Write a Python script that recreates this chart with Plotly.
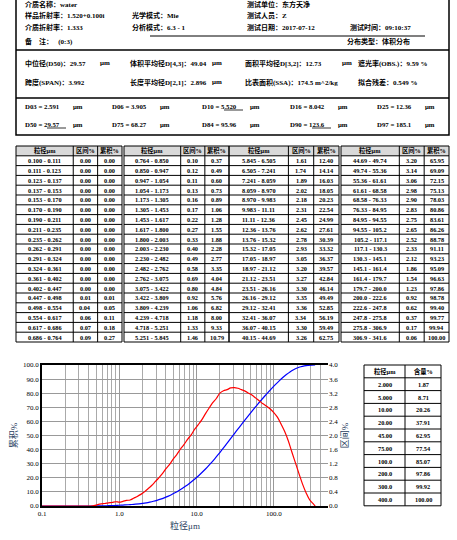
import plotly.graph_objects as go

W, H = 457, 540
FONT = "Liberation Serif, Noto Sans CJK SC"

# bin edges (as printed) and values per bin
edges = ["0.100", "0.111", "0.123", "0.137", "0.153", "0.170", "0.190", "0.211", "0.235", "0.262",
         "0.291", "0.324", "0.361", "0.402", "0.447", "0.498", "0.554", "0.617", "0.686", "0.764",
         "0.850", "0.947", "1.054", "1.173", "1.305", "1.453", "1.617", "1.800", "2.003", "2.230",
         "2.482", "2.762", "3.075", "3.422", "3.809", "4.239", "4.718", "5.251", "5.845", "6.505",
         "7.241", "8.059", "8.970", "9.983", "11.11", "12.36", "13.76", "15.32", "17.05", "18.97",
         "21.12", "23.51", "26.16", "29.12", "32.41", "36.07", "40.15", "44.69", "49.74", "55.36",
         "61.61", "68.58", "76.33", "84.95", "94.55", "105.2", "117.1", "130.3", "145.1", "161.4",
         "179.7", "200.0", "222.6", "247.8", "275.8", "306.9", "341.6"]
interval = [0.00] * 14 + [0.01, 0.04, 0.06, 0.07, 0.09,
            0.10, 0.12, 0.11, 0.13, 0.16, 0.17, 0.22, 0.27, 0.33, 0.40, 0.49, 0.58, 0.69, 0.80, 0.92, 1.06, 1.18, 1.33, 1.46,
            1.61, 1.74, 1.89, 2.02, 2.18, 2.31, 2.45, 2.62, 2.78, 2.93, 3.05, 3.20, 3.27, 3.30, 3.35, 3.36, 3.34, 3.30, 3.26,
            3.20, 3.14, 3.06, 2.98, 2.90, 2.83, 2.75, 2.65, 2.52, 2.33, 2.12, 1.86, 1.54, 1.23, 0.92, 0.62, 0.37, 0.17, 0.06]
cumulative = [0.00] * 14 + [0.01, 0.05, 0.11, 0.18, 0.27,
              0.37, 0.49, 0.60, 0.73, 0.89, 1.06, 1.28, 1.55, 1.88, 2.28, 2.77, 3.35, 4.04, 4.84, 5.76, 6.82, 8.00, 9.33, 10.79,
              12.40, 14.14, 16.03, 18.05, 20.23, 22.54, 24.99, 27.61, 30.39, 33.32, 36.37, 39.57, 42.84, 46.14, 49.49, 52.85, 56.19, 59.49, 62.75,
              65.95, 69.09, 72.15, 75.13, 78.03, 80.86, 83.61, 86.26, 88.78, 91.11, 93.23, 95.09, 96.63, 97.86, 98.78, 99.40, 99.77, 99.94, 100.00]

small_size = ["2.000", "5.000", "10.00", "20.00", "45.00", "75.00", "100.0", "200.0", "300.0", "400.0"]
small_pct = ["1.87", "8.71", "20.26", "37.91", "62.95", "77.54", "85.07", "97.86", "99.92", "100.00"]

header_items = [
    (23, 4, "介质名称：water"), (245, 4, "测试单位：东方天净"),
    (23, 15, "样品折射率：1.520+0.100i"), (130, 15, "光学模式：Mie"), (245, 15, "测试人员：Z"),
    (23, 28, "介质折射率：1.333"), (130, 28, "分析模式：6.3 - 1"), (245, 28, "测试日期：2017-07-12"),
    (348, 28, "测试时间：09:10:37"),
    (23, 42, "备　注：　 (0:3)"), (345, 42, "分布类型：体积分布"),
    (23, 63, "中位径(D50)：29.57"), (98, 63, "μm"), (128, 63, "体积平均径D[4,3]：49.04"), (210, 63, "μm"),
    (243, 63, "面积平均径D[3,2]：12.73"), (340, 63, "μm"), (356, 63, "遮光率(OBS.)：9.59 %"),
    (23, 82, "跨度(SPAN)：3.992"), (128, 82, "长度平均径D[2,1]：2.896"), (210, 82, "μm"),
    (243, 82, "比表面积(SSA)：174.5 m^2/kg"), (356, 82, "拟合残差：0.549 %"),
]
d_items = [("D03 = 2.591", "D06 = 3.905", "D10 = 5.520", "D16 = 8.042", "D25 = 12.36"),
           ("D50 = 29.57", "D75 = 68.27", "D84 = 95.96", "D90 = 123.6", "D97 = 185.1")]
d_x = [23, 110, 200, 288, 375]
d_y = [106, 124]

fig = go.Figure()
ann, shapes = [], []
thin = dict(color="black", width=1)


def px_line(x0, y0, x1, y1, ln=thin):
    shapes.append(dict(type="line", xref="paper", yref="paper", x0=x0 / W, x1=x1 / W,
                       y0=1 - y0 / H, y1=1 - y1 / H, line=ln))


def px_text(x, y, t, size=7, anchor="left"):
    ann.append(dict(x=x / W, y=1 - y / H, text=f"<b>{t}</b>", xref="paper", yref="paper",
                    xanchor=anchor, yanchor="middle", showarrow=False,
                    font=dict(family=FONT, size=size, color="black")))


def draw_table(cols, top, row_h, rows, header_fill=None, size=6.3):
    n = len(rows)
    bottom = top + n * row_h
    if header_fill:
        shapes.append(dict(type="rect", xref="paper", yref="paper", x0=cols[0] / W, x1=cols[-1] / W,
                           y0=1 - (top + row_h) / H, y1=1 - top / H, fillcolor=header_fill,
                           line=dict(width=0), layer="below"))
    for r in range(n + 1):
        px_line(cols[0], top + r * row_h, cols[-1], top + r * row_h)
    for c in cols:
        px_line(c, top, c, bottom)
    for r, row in enumerate(rows):
        for c, t in enumerate(row):
            px_text((cols[c] + cols[c + 1]) / 2, top + (r + 0.5) * row_h, t, size, "center")


for b in range(4):
    i0 = b * 19
    rows = [["粒径μm", "区间%", "累积%"]]
    for i in range(i0, i0 + 19):
        rows.append([f"{edges[i]} - {edges[i + 1]}", f"{interval[i]:.2f}", f"{cumulative[i]:.2f}"])
    x0 = [16, 124, 229, 341][b]
    x1 = [122, 229, 339, 449][b]
    w = x1 - x0
    draw_table([x0, x0 + w * 0.54, x0 + w * 0.77, x1], 146, 9.8, rows, "#d9d9d9")

small_rows = [["粒径μm", "含量%"]] + [[a, b] for a, b in zip(small_size, small_pct)]
draw_table([364, 405, 441], 365, 12.8, small_rows, None, 6.3)

# ---- curves
sizes = [float(e) for e in edges]
centers = [(sizes[i] * sizes[i + 1]) ** 0.5 for i in range(len(sizes) - 1)]
fig.add_trace(go.Scatter(x=sizes, y=[0.0] + cumulative, mode="lines", line=dict(color="blue", width=1.2,
                         shape="spline"), showlegend=False, yaxis="y"))
fig.add_trace(go.Scatter(x=[sizes[0]] + centers + [sizes[-1]], y=[0.0] + interval + [0.0], mode="lines",
                         line=dict(color="red", width=1.2, shape="spline"), showlegend=False, yaxis="y2"))

axfont = dict(family=FONT, size=7, color="black")
fig.update_layout(
    width=W, height=H, margin=dict(l=0, r=0, t=0, b=0), paper_bgcolor="white", plot_bgcolor="white",
    showlegend=False,
    xaxis=dict(domain=[42 / W, 328 / W], type="log", range=[-1, 2.7], tickvals=[0.1, 1, 10, 100],
               ticktext=["0.1", "1.0", "10.0", "100.0"], tickfont=axfont, showgrid=True, automargin=False,
               gridcolor="#999", gridwidth=1.2, minor=dict(showgrid=True, gridcolor="#aaa", dtick="D1"),
               showline=True, linecolor="black", linewidth=1.5, mirror=True, ticks="",
               anchor="y", title=dict(text="粒径μm", font=dict(family=FONT, size=9), standoff=6)),
    yaxis=dict(domain=[1 - 506 / H, 1 - 365 / H], range=[0, 100], dtick=10, tickformat=".1f",
               automargin=False,
               tickfont=axfont, gridcolor="#999", showline=True, linecolor="black", linewidth=1.5,
               zeroline=False, title=dict(text="累积%", font=dict(family=FONT, size=9), standoff=4)),
    yaxis2=dict(overlaying="y", side="right", range=[0, 4], dtick=0.4, tickformat=".1f", automargin=False,
                tickfont=axfont, showgrid=False, zeroline=False,
                title=dict(text="区间%", font=dict(family=FONT, size=9), standoff=4)),
)

for x, y, t in header_items:
    px_text(x, y, t, 7)
for r in range(2):
    for c in range(5):
        px_text(d_x[c], d_y[r], d_items[r][c], 6.8)
        px_text(d_x[c] + 48, d_y[r], "μm", 6.8)

line = dict(color="black", width=1.5)
shapes += [
    dict(type="rect", xref="paper", yref="paper", x0=16 / W, x1=449 / W, y0=1 - 135 / H, y1=1.01, line=line),
    dict(type="line", xref="paper", yref="paper", x0=16 / W, x1=449 / W, y0=1 - 50 / H, y1=1 - 50 / H, line=line),
    dict(type="line", xref="paper", yref="paper", x0=16 / W, x1=449 / W, y0=1 - 98 / H, y1=1 - 98 / H, line=line),
]
px_line(150, 36, 425, 36)
# underlined D10 / D50 / D90
for x, y in [(224, 110), (47, 128), (312, 128)]:
    px_line(x, y, x + 19, y, dict(color="black", width=0.8))

fig.update_layout(annotations=ann, shapes=shapes)
fig.write_html("out.html", config={"displayModeBar": False},
               post_script="document.body.style.margin='0';")
